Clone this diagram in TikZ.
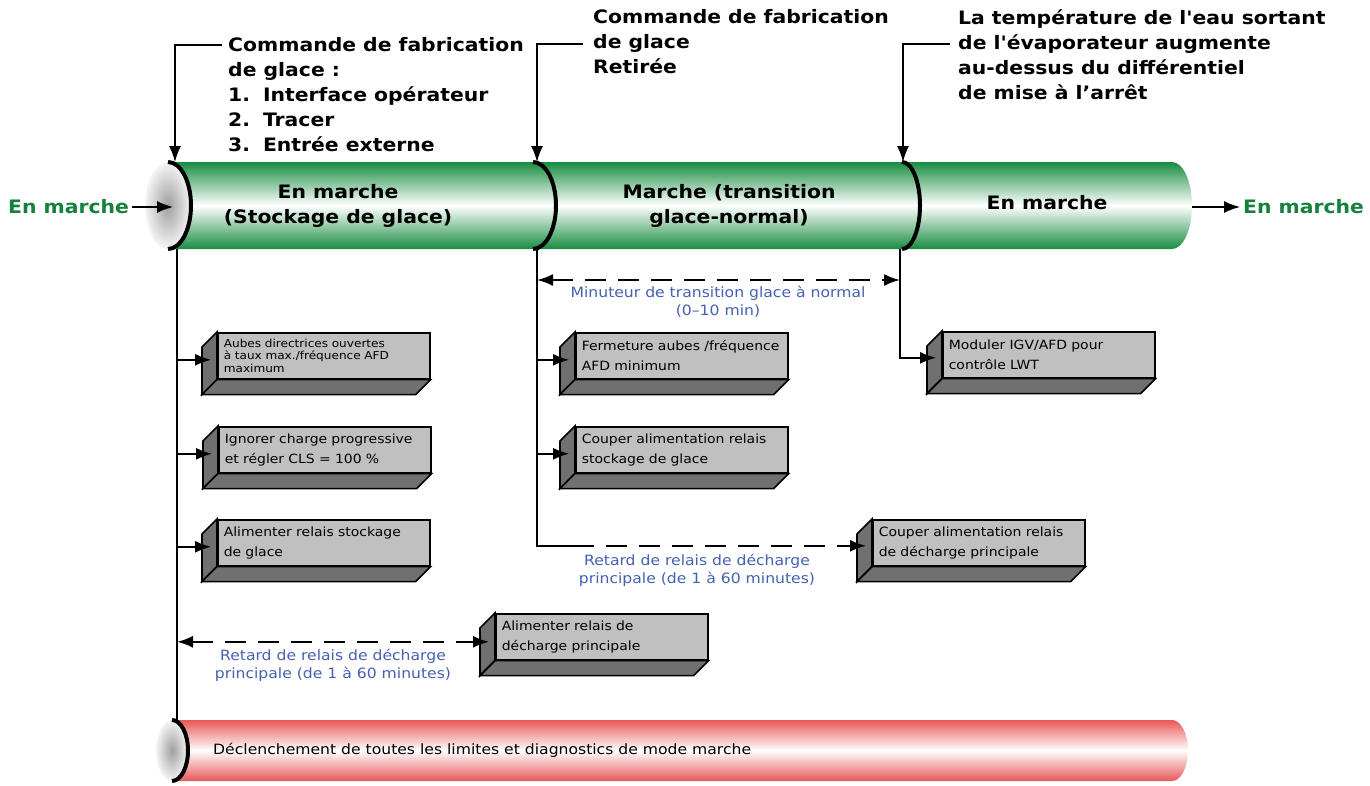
\documentclass[tikz,border=0pt]{standalone}
\usepackage{fontspec}
\setmainfont{DejaVu Sans}[FakeStretch=1.1,Ligatures=TeXOff]
\usetikzlibrary{arrows.meta,calc}

\definecolor{tubegreen}{RGB}{24,140,64}
\definecolor{tubered}{RGB}{232,88,88}
\definecolor{runcol}{RGB}{22,128,62}
\definecolor{notecol}{RGB}{68,96,178}
\definecolor{boxfront}{RGB}{192,192,192}
\definecolor{boxside}{RGB}{112,112,112}

\newcommand\hdfont{\fontsize{18.5}{25}\selectfont\bfseries}
\newcommand\boxfont{\fontsize{12.7}{20}\selectfont}
\newcommand\smallboxfont{\fontsize{11}{12.5}\selectfont}
\newcommand\notefont{\fontsize{14.2}{18}\selectfont}

\tikzset{
  act/.style={draw, line width=1.6pt, fill=boxfront, anchor=north west,
    minimum width=212pt, minimum height=46pt, text width=200pt,
    inner xsep=6pt, inner ysep=3pt, align=left, font=\boxfont},
  hd/.style={anchor=north west, inner sep=0pt, align=left, font=\hdfont},
  note/.style={text=notecol, align=center, font=\notefont},
  sepline/.style={line width=4pt},
  wire/.style={line width=1.5pt},
  delay/.style={line width=2pt, dash pattern=on 21pt off 12pt},
}

\begin{document}
\begin{tikzpicture}[x=1pt, y=-1pt, >={Latex[length=16pt,width=12pt]}]
\useasboundingbox (0,0) rectangle (1370,785);

% run tube
\shade[top color=tubegreen, bottom color=tubegreen, middle color=white]
  (168,162) -- (1172,162) arc[start angle=-90, end angle=90, x radius=20, y radius=43.5]
  -- (168,249) -- cycle;
\shade[inner color=gray!75, outer color=gray!8] (168,205.5) ellipse [x radius=23, y radius=43.5];
\draw[sepline] (168,162) arc[start angle=-90, end angle=90, x radius=23, y radius=43.5];
\draw[sepline] (533,162) arc[start angle=-90, end angle=90, x radius=23, y radius=43.5];
\draw[sepline] (902,162) arc[start angle=-90, end angle=90, x radius=18, y radius=43.5];

% trip tube
\shade[top color=tubered, bottom color=tubered, middle color=white]
  (172,720) -- (1172,720) arc[start angle=-90, end angle=90, x radius=16, y radius=30.5]
  -- (172,781) -- cycle;
\shade[inner color=gray!75, outer color=gray!8] (172,750.5) ellipse [x radius=16, y radius=30.5];
\draw[sepline] (172,720) arc[start angle=-90, end angle=90, x radius=16, y radius=30.5];

\coordinate (sepA) at (175,162);
\coordinate (sepB) at (537,162);
\coordinate (sepC) at (903,162);
\coordinate (spA) at (177,249);
\coordinate (spB) at (537,249);
\coordinate (spC) at (900,249);
\coordinate (spAend) at (177,720);
\coordinate (capG) at (173,207);
\coordinate (endG) at (1192,207);

% states in the tubes
\node[font=\hdfont, align=center] (stA) at (338,206) {En marche\\(Stockage de glace)};
\node[font=\hdfont, align=center] (stB) at (729,206) {Marche (transition\\glace-normal)};
\node[font=\hdfont] (stC) at (1047,203) {En marche};
\node[font=\fontsize{14.2}{16}\selectfont, anchor=west, inner sep=0pt] (trip) at (213,750)
  {Déclenchement de toutes les limites et diagnostics de mode marche};

\node[font=\hdfont, text=runcol, anchor=west, inner sep=3pt] (inL) at (5,207) {En marche};
\node[font=\hdfont, text=runcol, anchor=west, inner sep=3pt] (outR) at (1240,207) {En marche};
\draw[wire,->] (inL) -- (capG);
\draw[wire,->] (endG) -- (outR);

% events on top
\node[hd] (cmdA) at (228,37) {Commande de fabrication\\de glace :\\1.\hspace{0.7em}Interface opérateur\\2.\hspace{0.7em}Tracer\\3.\hspace{0.7em}Entrée externe};
\node[hd] (cmdB) at (593,9) {Commande de fabrication\\de glace\\Retirée};
\node[hd] (cmdC) at (958,9) {La température de l'eau sortant\\de l'évaporateur augmente\\au-dessus du différentiel\\de mise à l’arrêt};
\coordinate (cmdAtail) at ($(cmdA.north west)+(-6,8)$);
\coordinate (cmdBtail) at ($(cmdB.north west)+(-10,35)$);
\coordinate (cmdCtail) at ($(cmdC.north west)+(-8,35)$);
\draw[wire,->] (cmdAtail) -| (sepA);
\draw[wire,->] (cmdBtail) -| (sepB);
\draw[wire,->] (cmdCtail) -| (sepC);

% actions
\node[act, font=\smallboxfont] (b1) at (217,332) {Aubes directrices ouvertes\\à taux max./fréquence AFD\\maximum};
\node[act] (b2) at (218,426) {Ignorer charge progressive\\et régler CLS = 100 \%};
\node[act] (b3) at (217,519) {Alimenter relais stockage\\de glace};
\node[act] (b4) at (495,613) {Alimenter relais de\\décharge principale};
\node[act] (b5) at (575,332) {Fermeture aubes /fréquence\\AFD minimum};
\node[act] (b6) at (575,426) {Couper alimentation relais\\stockage de glace};
\node[act] (b7) at (872,519) {Couper alimentation relais\\de décharge principale};
\node[act] (b8) at (942,331) {Moduler IGV/AFD pour\\contrôle LWT};
\foreach \i in {1,...,8}{
  \draw[line width=1.6pt, fill=boxside] (b\i.north west) -- ++(-15,15)
    -- ($(b\i.south west)+(-15,15)$) -- (b\i.south west) -- cycle;
  \draw[line width=1.6pt, fill=boxside] (b\i.south west) -- ++(-15,15)
    -- ($(b\i.south east)+(-15,15)$) -- (b\i.south east) -- cycle;
}

% spines and links
\coordinate (d1) at ($(b4.west)+(-6,5)$);
\coordinate (d2) at ($(b7.west)+(-6,3)$);
\coordinate (d2s) at ($(spB |- d2)+(36,0)$);
\coordinate (tmA) at (537,280);
\coordinate (tmB) at (900,280);
\draw[wire] (spA) -- (spAend);
\draw[wire] (spB) |- (d2s);
\draw[wire,->] (spC) |- ($(b8.west)+(-6,3)$);
\foreach \i/\s in {1/spA,2/spA,3/spA,5/spB,6/spB}
  \draw[wire,->] ($(\s |- b\i.west)+(0,4)$) -- ($(b\i.west)+(-6,4)$);

\draw[delay,<->] (tmA) -- (tmB);
\draw[delay,<->] (spA |- d1) -- (d1);
\draw[delay,->] (d2s) -- (d2);

\node[note] (tmlbl) at (718,302) {Minuteur de transition glace à normal\\(0–10 min)};
\node[note] (d1lbl) at (333,665) {Retard de relais de décharge\\principale (de 1 à 60 minutes)};
\node[note] (d2lbl) at (697,570) {Retard de relais de décharge\\principale (de 1 à 60 minutes)};
\end{tikzpicture}
\end{document}
